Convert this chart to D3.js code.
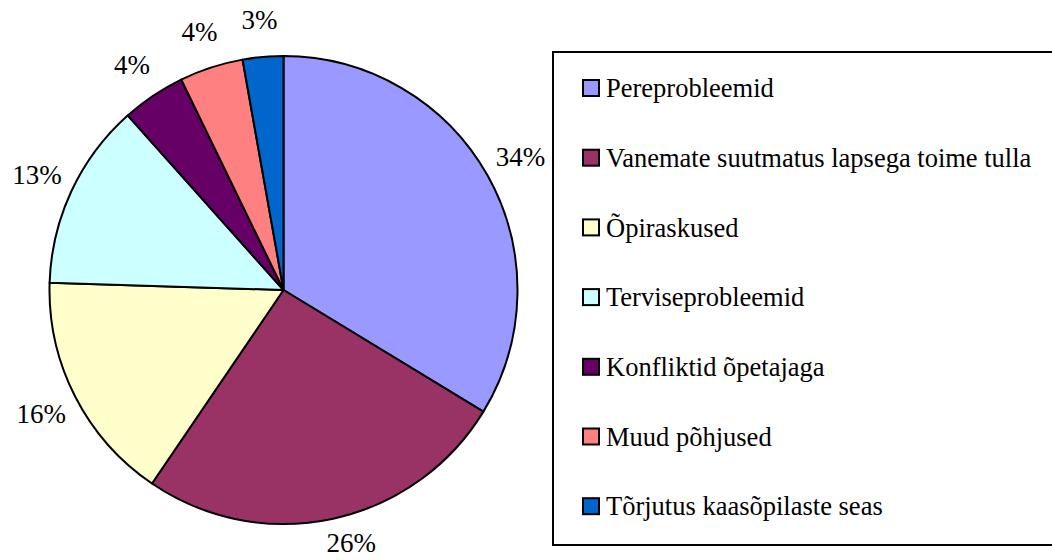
<!DOCTYPE html>
<html>
<head>
<meta charset="utf-8">
<script src="https://cdn.jsdelivr.net/npm/d3@7"></script>
<style>
  body { margin: 0; background: #fff; }
  svg text { font-family: "Liberation Serif", "Times New Roman", Times, "DejaVu Serif", serif; fill: #000; }
</style>
</head>
<body>
<svg id="chart" width="1052" height="560"></svg>
<script>
// categories and shares, colours per category
const categories = [
  "Pereprobleemid",
  "Vanemate suutmatus lapsega toime tulla",
  "Õpiraskused",
  "Terviseprobleemid",
  "Konfliktid õpetajaga",
  "Muud põhjused",
  "Tõrjutus kaasõpilaste seas"
];
const values = [33.7, 25.8, 16.0, 12.9, 4.4, 4.4, 2.8];
const colors = ["#9999ff", "#993366", "#ffffcc", "#ccffff", "#660066", "#ff8080", "#0066cc"];

const W = 1052, H = 560;
const svg = d3.select("#chart");
const serif = '"Liberation Serif", "Times New Roman", Times, "DejaVu Serif", serif';

var cx = 283.5, cy = 290, radius = 234;
var total = d3.sum(values);
var fmt = d3.format(".0%");

const data = categories.map((c, i) => ({ name: c, value: values[i], color: colors[i] }));

const pie = d3.pie()
  .value(d => d.value)
  .sort(null);

const arc = d3.arc()
  .innerRadius(0)
  .outerRadius(radius);

// label sits outside the rim, centred on the slice's middle angle
const labelArc = d3.arc()
  .innerRadius(272)
  .outerRadius(272);

const g = svg.append("g")
  .attr("transform", `translate(${cx},${cy})`);

const slices = pie(data);

g.selectAll("path.slice")
  .data(slices)
  .enter().append("path")
    .attr("class", "slice")
    .attr("d", arc)
    .attr("fill", d => d.data.color)
    .attr("stroke", "#000")
    .attr("stroke-width", 2)
    .attr("stroke-linejoin", "round");

g.selectAll("text.pct")
  .data(slices)
  .enter().append("text")
    .attr("class", "pct")
    .attr("transform", d => {
      const p = labelArc.centroid(d);
      // keep the label inside the picture
      if (p[1] > H - 17 - cy) {
        p[1] = H - 17 - cy;
        p[0] += 10;
      }
      return `translate(${p})`;
    })
    .attr("text-anchor", "middle")
    .attr("dy", "0.35em")
    .attr("font-family", serif)
    .style("font-size", "27px")
    .text(d => fmt(d.data.value / total));

// LEGEND
var legend = { x: 553, y: 52, w: 520, h: 493, rowTop: 88, rowStep: 69.7, sw: 16 };

svg.append("rect")
  .attr("x", legend.x)
  .attr("y", legend.y)
  .attr("width", legend.w)
  .attr("height", legend.h)
  .attr("fill", "#fff")
  .attr("stroke", "#000")
  .attr("stroke-width", 2);

const rows = svg.selectAll("g.item")
  .data(data)
  .enter().append("g")
    .attr("class", "item")
    .attr("transform", (d, i) => `translate(${legend.x + 29},${legend.rowTop + i * legend.rowStep})`);

rows.append("rect")
  .attr("x", 1)
  .attr("y", -legend.sw / 2)
  .attr("width", legend.sw)
  .attr("height", legend.sw)
  .attr("fill", d => d.color)
  .attr("stroke", "#000")
  .attr("stroke-width", 2);

rows.append("text")
  .attr("x", 24)
  .attr("dy", "0.35em")
  .attr("font-family", serif)
  .style("font-size", "26.5px")
  .text(d => d.name);
</script>
</body>
</html>
